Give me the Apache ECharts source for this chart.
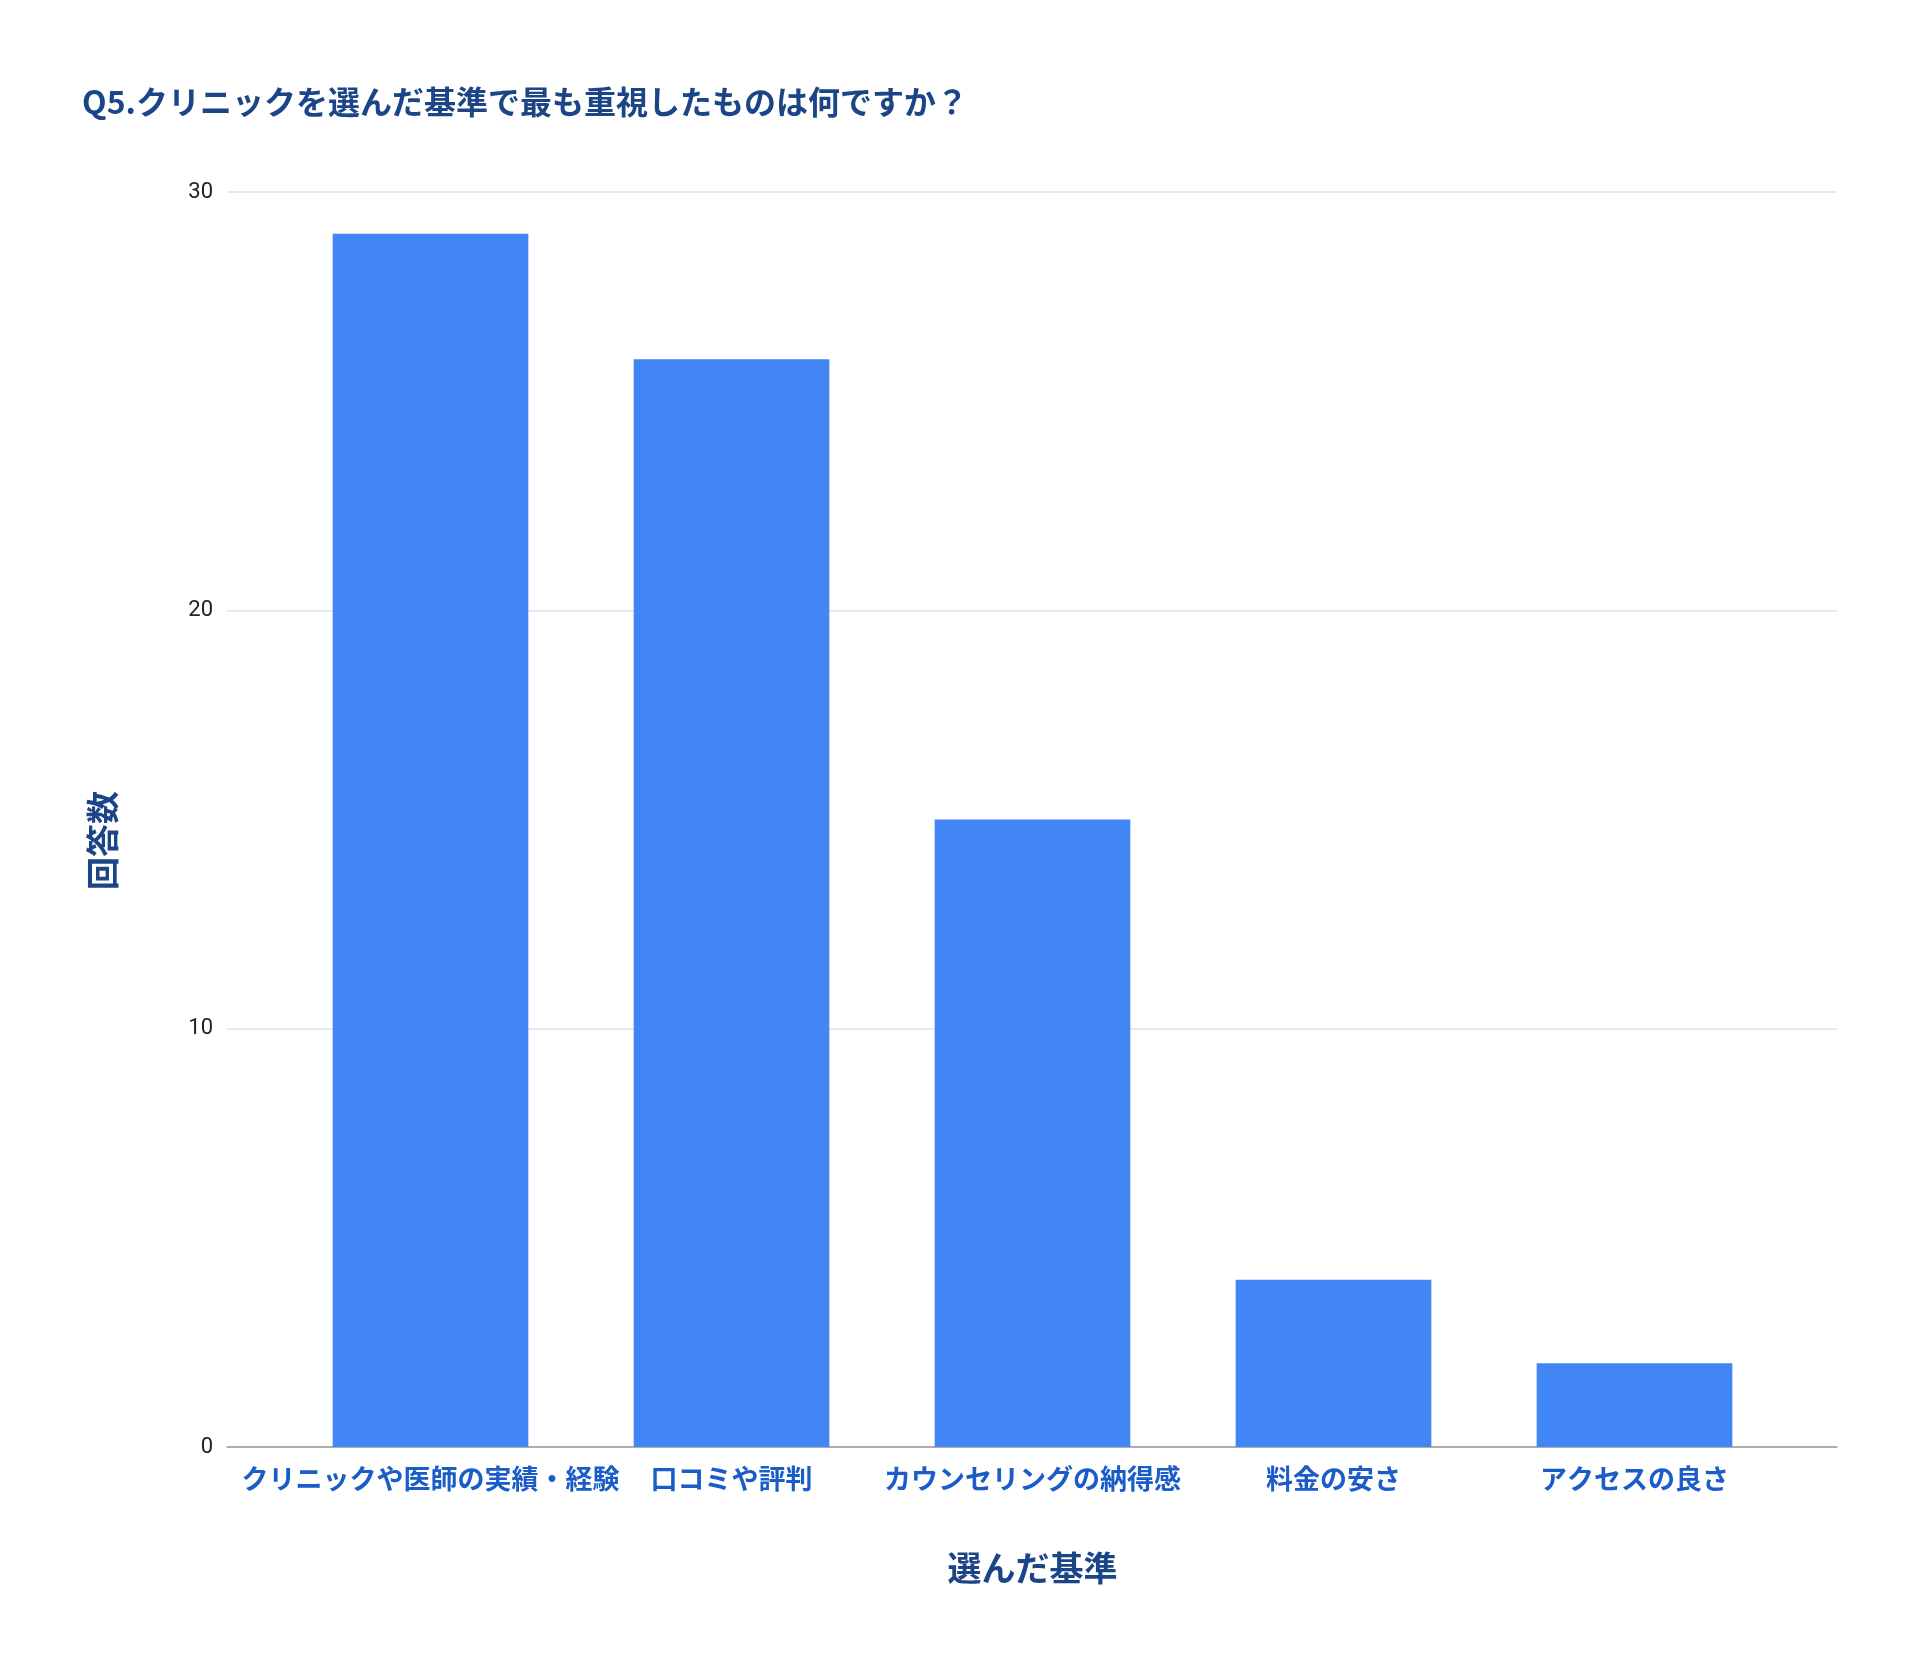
<!DOCTYPE html>
<html>
<head>
<meta charset="utf-8">
<script src="https://cdn.jsdelivr.net/npm/echarts@6/dist/echarts.min.js"></script>
<style>
  html, body { margin: 0; padding: 0; background: #fff; }
  #main { width: 1920px; height: 1670px; }
</style>
</head>
<body>
<div id="main"></div>
<script>
var categories = ['クリニックや医師の実績・経験', '口コミや評判', 'カウンセリングの納得感', '料金の安さ', 'アクセスの良さ'];
var answers = [29, 26, 15, 4, 2];
var yTicks = [0, 10, 20, 30];

var titleText = 'Q5.クリニックを選んだ基準で最も重視したものは何ですか？';
var xName = '選んだ基準';
var yName = '回答数';

var cjk = '"Noto Sans CJK JP", "Noto Sans", sans-serif';
var darkBlue = '#1c4587';

var myChart = echarts.init(document.getElementById('main'));

var option = {
    backgroundColor: '#ffffff',
    animation: false,
    title: {
        text: titleText,
        left: 77,
        top: 81,
        textStyle: {
            fontFamily: cjk,
            fontSize: 32,
            fontWeight: 'bold',
            color: darkBlue
        }
    },
    grid: [
        // full width grid: gridlines, y labels, baseline
        {left: 227, right: 83, top: 192, bottom: 223},
        // inner grid: the bars and category labels
        {left: 280, right: 135, top: 192, bottom: 223}
    ],
    xAxis: [
        {
            type: 'value',
            gridIndex: 0,
            min: 0,
            max: 1,
            axisLine: {show: true, lineStyle: {color: '#999999', width: 1.5}},
            axisTick: {show: false},
            axisLabel: {show: false},
            splitLine: {show: false}
        },
        {
            type: 'category',
            gridIndex: 1,
            data: categories,
            name: xName,
            nameLocation: 'middle',
            nameGap: 104,
            nameTextStyle: {
                fontFamily: cjk,
                fontSize: 34,
                fontWeight: 'bold',
                color: darkBlue
            },
            axisLine: {show: false},
            axisTick: {show: false},
            axisLabel: {
                interval: 0,
                margin: 18,
                fontFamily: cjk,
                fontSize: 27,
                fontWeight: 'bold',
                color: '#1a5cc8'
            }
        }
    ],
    yAxis: [
        {
            type: 'value',
            gridIndex: 0,
            min: yTicks[0],
            max: yTicks[yTicks.length - 1],
            interval: 10,
            name: yName,
            nameLocation: 'middle',
            nameGap: 108,
            nameRotate: 90,
            nameTextStyle: {
                fontFamily: cjk,
                fontSize: 33,
                fontWeight: 'bold',
                color: darkBlue,
                padding: [0, 42, 0, 0]
            },
            axisLine: {show: false},
            axisTick: {show: false},
            axisLabel: {
                margin: 14,
                fontFamily: 'Roboto, "Liberation Sans", sans-serif',
                fontSize: 22,
                color: '#222222'
            },
            splitLine: {show: true, lineStyle: {color: '#e3e3e3', width: 1.5}}
        },
        {
            type: 'value',
            gridIndex: 1,
            min: yTicks[0],
            max: yTicks[yTicks.length - 1],
            interval: 10,
            show: false
        }
    ],
    series: [
        {
            type: 'bar',
            xAxisIndex: 1,
            yAxisIndex: 1,
            data: answers,
            barCategoryGap: '35%',
            itemStyle: {color: '#4285f4'}
        }
    ]
};

myChart.setOption(option);
</script>
</body>
</html>
